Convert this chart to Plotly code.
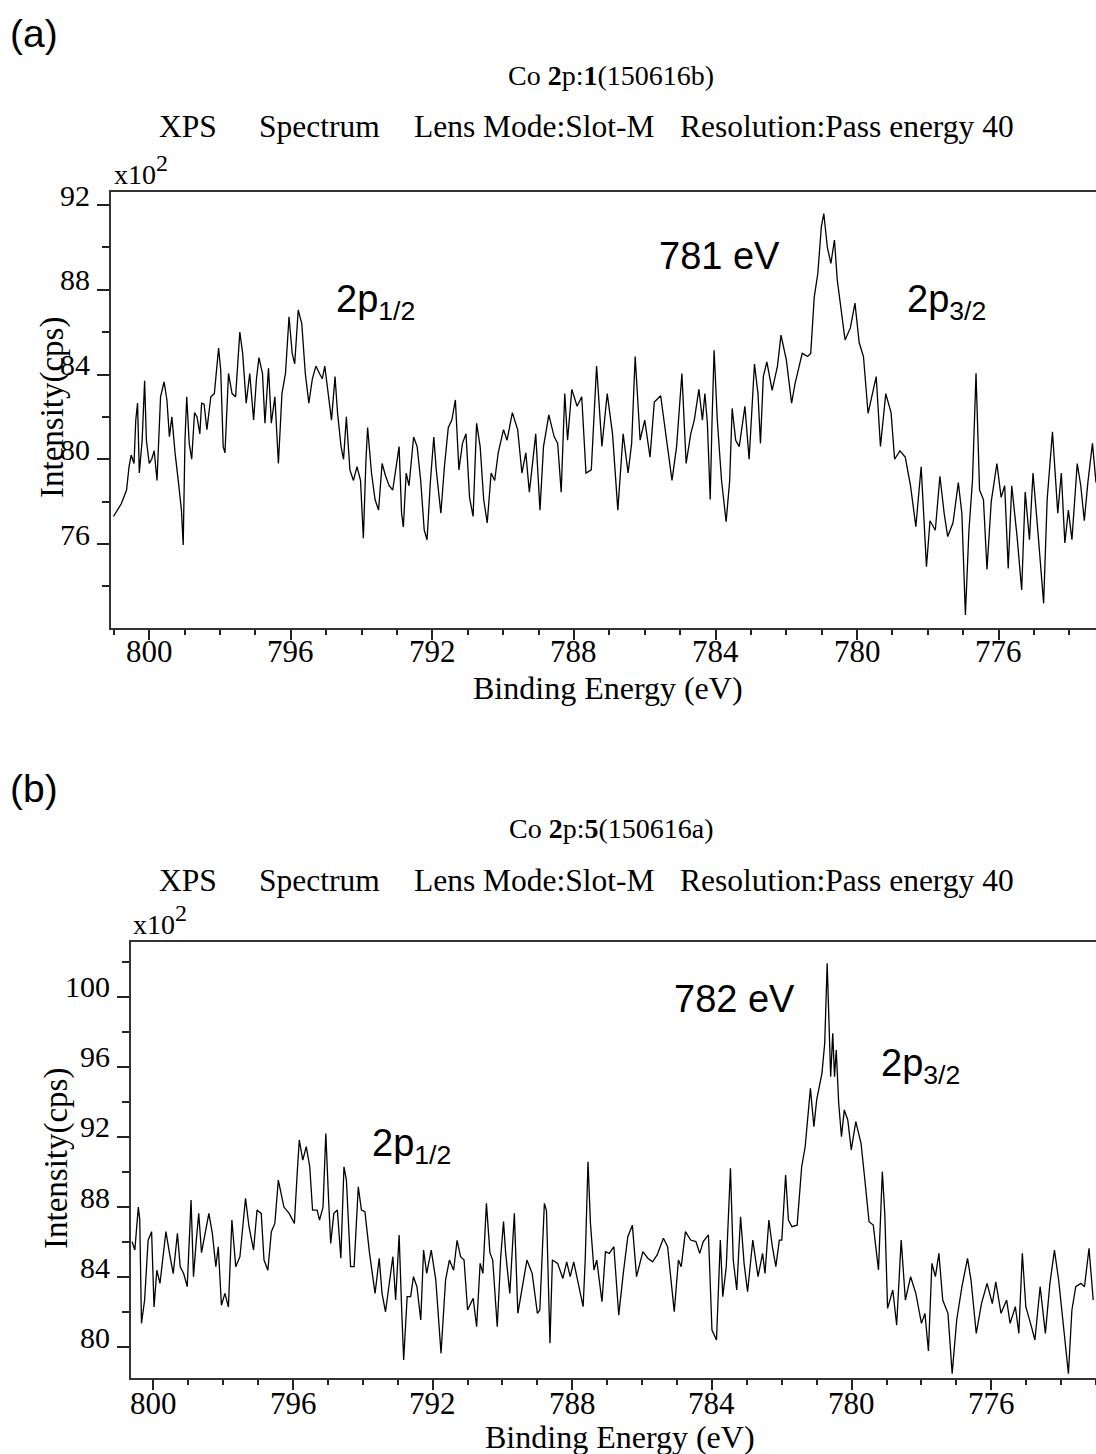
import plotly.graph_objects as go

# ---------------- data (binding energy in eV, intensity in units of 10^2 cps) ----------------
energy_a = [801.01, 800.79, 800.64, 800.57, 800.51, 800.43, 800.38, 800.33, 800.28, 800.20,
            800.13, 800.08, 800.00, 799.93, 799.86, 799.78, 799.68, 799.58, 799.50, 799.43,
            799.36, 799.27, 799.17, 799.09, 799.04, 798.99, 798.94, 798.87, 798.80, 798.72,
            798.65, 798.57, 798.52, 798.45, 798.37, 798.26, 798.16, 798.04, 797.98, 797.91,
            797.86, 797.76, 797.66, 797.56, 797.44, 797.36, 797.26, 797.16, 797.05, 796.97,
            796.90, 796.80, 796.73, 796.63, 796.55, 796.45, 796.35, 796.25, 796.15, 796.05,
            795.96, 795.89, 795.79, 795.69, 795.59, 795.49, 795.39, 795.29, 795.19, 795.11,
            795.04, 794.94, 794.85, 794.75, 794.68, 794.58, 794.51, 794.43, 794.33, 794.23,
            794.13, 794.03, 793.95, 793.88, 793.83, 793.72, 793.62, 793.52, 793.42, 793.32,
            793.22, 793.12, 793.02, 792.94, 792.87, 792.82, 792.74, 792.66, 792.53, 792.43,
            792.33, 792.23, 792.15, 792.06, 791.96, 791.89, 791.76, 791.66, 791.55, 791.45,
            791.35, 791.25, 791.15, 791.05, 790.95, 790.85, 790.75, 790.65, 790.55, 790.45,
            790.34, 790.24, 790.14, 789.99, 789.89, 789.74, 789.59, 789.47, 789.36, 789.26,
            789.18, 789.08,
            788.96, 788.86, 788.71, 788.56, 788.46, 788.36, 788.26, 788.18, 788.06, 787.91,
            787.78, 787.66, 787.51, 787.36, 787.21, 787.06, 786.91, 786.76, 786.61, 786.47,
            786.37, 786.27, 786.13, 786.00, 785.85, 785.73, 785.55, 785.40, 785.23, 785.10,
            784.95, 784.83, 784.70, 784.60, 784.47, 784.37, 784.30, 784.23, 784.15, 784.10,
            784.04, 783.95, 783.83, 783.70, 783.60, 783.53, 783.43, 783.33, 783.17, 783.05,
            782.90, 782.80, 782.73, 782.65, 782.55, 782.40, 782.25, 782.15, 782.00, 781.85,
            781.75, 781.55, 781.40, 781.31, 781.21, 781.11, 781.01, 780.94, 780.84, 780.74,
            780.64, 780.56, 780.46, 780.34, 780.19, 780.06, 779.94, 779.82, 779.69, 779.59,
            779.46, 779.34, 779.19, 779.04, 778.94, 778.79, 778.64, 778.49, 778.34, 778.19,
            778.04, 777.94, 777.79, 777.66, 777.54, 777.44, 777.29, 777.14, 777.04, 776.94,
            776.84, 776.74, 776.64, 776.54, 776.43, 776.33, 776.21, 776.05, 775.93, 775.83,
            775.73, 775.63, 775.48, 775.35, 775.25, 775.13, 775.03, 774.88, 774.73, 774.63,
            774.48, 774.33, 774.23, 774.13, 774.03, 773.93, 773.78, 773.68, 773.58, 773.48,
            773.35, 773.25]
intensity_a = [77.3, 77.9, 78.55, 79.65, 80.2, 79.8, 81.85, 82.65, 79.35, 80.9,
               83.7, 80.9, 79.8, 80.0, 80.4, 79.0, 82.95, 83.66, 82.8, 81.07,
               82.0, 80.3, 78.85, 77.6, 75.95, 80.9, 82.95, 80.75, 80.0, 82.2,
               82.0, 81.2, 82.65, 82.6, 81.4, 82.95, 83.1, 85.25, 84.2, 80.6,
               80.3, 84.05, 83.1, 82.95, 86.0, 85.0, 82.65, 84.05, 81.85, 83.8,
               84.8, 84.05, 81.7, 84.3, 81.7, 82.95, 79.8, 83.1, 84.05, 86.73,
               85.0, 84.5, 87.05, 86.4, 84.05, 82.65, 83.8, 84.4, 84.05, 83.8,
               84.4, 82.95, 81.85, 83.9, 82.2, 80.6, 80.0, 82.0, 79.5, 79.0,
               79.65, 79.0, 76.27, 79.8, 81.5, 79.35, 78.1, 77.6, 79.8, 79.2,
               78.75, 78.55, 79.65, 80.6, 77.45, 76.8, 79.35, 78.75, 81.05, 80.6,
               79.0, 76.65, 76.2, 78.85, 81.05, 79.5, 77.45, 79.65, 81.5, 81.85,
               82.8, 79.5, 80.75, 81.2, 78.2, 77.3, 81.7, 80.6, 78.1, 77.0,
               79.35, 79.0, 80.3, 81.4, 80.9, 82.2, 81.4, 79.35, 80.3, 78.45,
               79.65, 81.2,
               77.6, 80.6, 82.1, 81.07, 80.75, 78.45, 83.1, 80.9, 83.3, 82.5,
               82.95, 79.35, 79.5, 84.4, 80.6, 83.1, 81.2, 77.6, 81.2, 79.35,
               80.75, 84.85, 80.9, 81.85, 80.1, 82.7, 83.0, 81.07, 79.0, 80.6,
               84.05, 79.8, 81.2, 81.85, 83.3, 81.85, 83.1, 81.7, 78.1, 81.7,
               85.15, 81.85, 79.0, 77.05, 79.0, 82.4, 80.9, 80.6, 82.5, 80.0,
               84.5, 83.1, 80.75, 83.9, 84.6, 83.25, 84.4, 85.86, 84.7, 82.65,
               83.6, 85.0, 84.85, 85.0, 87.67, 88.77, 90.98, 91.6, 90.0, 89.25,
               90.35, 88.46, 87.2, 85.63, 86.2, 87.37, 85.5, 84.85, 82.17, 82.95,
               83.9, 80.6, 83.1, 82.2, 80.0, 80.4, 80.1, 78.75, 76.82, 79.65,
               74.93, 77.1, 76.65, 79.2, 77.45, 76.35, 77.0, 78.9, 77.45, 72.65,
               76.65, 79.0, 84.06, 78.55, 78.1, 74.8, 78.0, 79.8, 78.2, 78.75,
               74.85, 78.75, 76.35, 73.83, 78.45, 76.2, 79.35, 76.35, 73.2, 78.1,
               81.3, 77.45, 79.35, 76.05, 77.6, 76.2, 79.8, 78.75, 77.1, 78.9,
               80.75, 78.9]

energy_b = [800.61, 800.53, 800.43, 800.39, 800.34, 800.25, 800.15, 800.05, 799.98, 799.90,
            799.81, 799.71, 799.64, 799.54, 799.43, 799.31, 799.23, 799.13, 799.03, 798.92,
            798.85, 798.77, 798.70, 798.62, 798.51, 798.41, 798.31, 798.21, 798.14, 798.05,
            797.95, 797.85, 797.75, 797.64, 797.52, 797.36, 797.26, 797.13, 797.03, 796.91,
            796.83, 796.72, 796.62, 796.52, 796.42, 796.26, 796.11, 795.96, 795.88, 795.82,
            795.72, 795.62, 795.52, 795.44, 795.31, 795.24, 795.14, 795.06, 794.98, 794.92,
            794.83, 794.73, 794.63, 794.54, 794.47, 794.35, 794.25, 794.13, 794.04, 793.94,
            793.81, 793.65, 793.53, 793.45, 793.35, 793.24, 793.14, 793.06, 792.96, 792.89,
            792.83, 792.73, 792.63, 792.55, 792.45, 792.34, 792.26, 792.17, 792.04, 791.91,
            791.76, 791.63, 791.52, 791.40, 791.30, 791.20, 791.10, 791.00, 790.84, 790.74,
            790.64, 790.56, 790.46, 790.36, 790.28, 790.15, 790.05, 789.97, 789.91, 789.79,
            789.66, 789.56, 789.44, 789.30, 789.15, 789.00,
            788.93, 788.80, 788.74, 788.64, 788.57, 788.42, 788.27, 788.16, 788.06, 787.96,
            787.83, 787.69, 787.63, 787.55, 787.48, 787.38, 787.30, 787.15, 787.05, 786.94,
            786.81, 786.67, 786.54, 786.41, 786.28, 786.16, 785.98, 785.83, 785.70, 785.57,
            785.39, 785.27, 785.08, 784.96, 784.88, 784.76, 784.61, 784.46, 784.35, 784.25,
            784.10, 784.00, 783.87, 783.76, 783.69, 783.59, 783.47, 783.39, 783.29, 783.18,
            783.08, 782.98, 782.83, 782.68, 782.55, 782.48, 782.37, 782.27, 782.17, 782.07,
            782.00, 781.89, 781.81, 781.71, 781.56, 781.43, 781.33, 781.18, 781.08, 781.00,
            780.85, 780.77, 780.70, 780.65, 780.60, 780.54, 780.49, 780.44, 780.37, 780.29,
            780.21, 780.11, 780.01, 779.88, 779.73, 779.63, 779.50, 779.38, 779.23, 779.12,
            779.05, 778.97, 778.82, 778.71, 778.58, 778.46, 778.31, 778.16, 778.00, 777.90,
            777.80, 777.70, 777.60, 777.50, 777.39, 777.24, 777.12, 776.99, 776.84, 776.68,
            776.58, 776.43, 776.28, 776.12, 775.97, 775.87, 775.72, 775.56, 775.46, 775.31,
            775.21, 775.11, 775.01, 774.85, 774.75, 774.60, 774.45, 774.32, 774.19, 774.07,
            773.94, 773.79, 773.69, 773.58, 773.43, 773.33, 773.20, 773.08]
intensity_b = [86.03, 85.55, 88.0, 87.3, 81.37, 82.7, 86.1, 86.6, 82.3, 84.4,
               83.65, 85.4, 86.6, 85.4, 84.2, 86.5, 84.6, 84.2, 83.46, 88.4,
               84.03, 86.1, 87.64, 85.4, 86.5, 87.64, 86.5, 84.6, 85.74, 82.4,
               83.08, 82.3, 87.26, 84.6, 85.17, 88.5, 86.88, 85.55, 87.83, 87.64,
               84.98, 84.4, 86.6, 87.07, 89.54, 88.0, 87.64, 87.07, 89.92, 91.83,
               90.68, 91.45, 90.3, 87.83, 87.83, 87.26, 88.0, 92.2, 88.4, 85.93,
               87.64, 87.83, 85.08, 90.3, 89.54, 84.6, 84.6, 89.16, 87.83, 87.74,
               85.4, 83.08, 85.08, 83.08, 82.03, 83.84, 85.17, 82.7, 86.4, 82.3,
               79.28, 82.89, 82.89, 84.03, 83.46, 81.56, 85.55, 84.22, 85.55, 83.84,
               79.66, 83.84, 84.98, 84.4, 86.1, 85.17, 84.98, 82.13, 82.8, 81.18,
               84.79, 84.22, 88.21, 85.4, 84.98, 81.18, 85.17, 87.17, 85.4, 83.08,
               87.64, 81.94, 83.46, 84.98, 84.22, 81.94,
               82.13, 88.21, 87.8, 80.23, 84.98, 84.79, 83.93, 84.88, 84.03, 84.88,
               83.65, 82.32, 84.98, 90.59, 87.07, 84.41, 84.98, 82.6, 85.46, 85.36,
               85.74, 81.84, 84.22, 86.31, 86.97, 84.03, 85.46, 85.07, 84.88, 85.27,
               86.22, 85.74, 82.03, 84.98, 84.6, 86.6, 86.12, 86.03, 85.36, 86.03,
               86.41, 80.99, 80.42, 86.12, 82.89, 84.6, 90.21, 84.98, 83.27, 87.45,
               84.79, 83.17, 86.12, 84.03, 85.36, 84.22, 87.26, 85.74, 84.6, 86.12,
               86.12, 89.83, 87.26, 86.88, 86.97, 90.3, 91.44, 94.77, 92.59, 94.11,
               95.63, 97.34, 101.9, 97.91, 95.44, 97.91, 95.44, 96.96, 93.92, 92.02,
               93.54, 92.97, 91.26, 92.87, 91.64, 89.73, 87.17, 86.98, 84.41, 90.02,
               87.64, 82.22, 83.27, 81.27, 86.12, 82.7, 84.03, 83.08, 81.37, 81.94,
               79.8, 84.79, 84.03, 85.36, 82.7, 81.94, 78.5, 81.56, 83.46, 85.07,
               83.84, 80.8, 82.5, 83.65, 82.5, 83.74, 81.94, 82.7, 81.37, 82.32,
               80.8, 85.36, 82.32, 81.18, 80.42, 83.46, 80.8, 83.65, 85.55, 83.84,
               81.37, 78.5, 82.13, 83.46, 83.65, 83.46, 85.65, 82.7]

x_ticks = [800, 796, 792, 788, 784, 780, 776]
y_ticks_a = [76, 80, 84, 88, 92]
y_ticks_b = [80, 84, 88, 92, 96, 100]
titles = ["Co <b>2</b>p:<b>1</b>(150616b)", "Co <b>2</b>p:<b>5</b>(150616a)"]
sub_parts = ["XPS", "Spectrum", "Lens Mode:Slot-M", "Resolution:Pass energy 40"]

# ---------------- figure ----------------
W, H = 1096, 1454
SERIF = "Liberation Serif, Times New Roman, serif"
SANS = "Liberation Sans, Arial, Helvetica, sans-serif"


def px(x):
    return x / W


def py(y):
    return 1 - y / H


fig = go.Figure()
fig.add_trace(go.Scatter(x=energy_a, y=intensity_a, mode="lines",
                         line=dict(color="black", width=1.3), xaxis="x", yaxis="y",
                         showlegend=False))
fig.add_trace(go.Scatter(x=energy_b, y=intensity_b, mode="lines",
                         line=dict(color="black", width=1.3), xaxis="x2", yaxis="y2",
                         showlegend=False))

axis_common = dict(showgrid=False, zeroline=False, showline=True, linecolor="#333",
                   linewidth=2, ticks="outside", tickcolor="#222", tickwidth=1.5,
                   automargin=False)

xcommon = dict(axis_common, tickvals=x_ticks, ticklen=10, mirror=True,
               showticklabels=False,
               minor=dict(tick0=800, dtick=1, ticks="outside", ticklen=5,
                          tickcolor="#222", tickwidth=1.5))
ycommon = dict(axis_common, ticklen=12, ticklabelshift=-10, ticklabelstandoff=1,
               tickfont=dict(family=SERIF, size=30, color="black"),
               minor=dict(tick0=0, dtick=2, ticks="outside", ticklen=7,
                          tickcolor="#222", tickwidth=1.5))

fig.update_layout(
    width=W, height=H,
    margin=dict(l=0, r=0, t=0, b=0, pad=0, autoexpand=False),
    paper_bgcolor="white", plot_bgcolor="white",
    xaxis=dict(xcommon, domain=[px(111), 1], anchor="y", range=[801.08, 773.25]),
    yaxis=dict(ycommon, domain=[py(627.7), py(191.7)], anchor="x",
               range=[72.05, 92.63], tickvals=y_ticks_a),
    xaxis2=dict(xcommon, domain=[px(131), 1], anchor="y2", range=[800.64, 773.0]),
    yaxis2=dict(ycommon, domain=[py(1377.7), py(942.3)], anchor="x2",
                range=[78.27, 103.1], tickvals=y_ticks_b),
)

ann = []


def text(x, y, s, size, family, xanchor="center", yanchor="middle", angle=0, xref="paper"):
    ann.append(dict(x=x if xref != "paper" else px(x), y=py(y), xref=xref, yref="paper",
                    text=s, showarrow=False, xanchor=xanchor, yanchor=yanchor,
                    textangle=angle, font=dict(family=family, size=size, color="black")))


sub_left = [157, 257, 412, 678]
for ty, title in zip([75, 828], titles):
    text(611, ty, title, 28, SERIF)
    for lx, part in zip(sub_left, sub_parts):
        text(lx, ty + 52, part, 31.5, SERIF, xanchor="left")

# x tick labels placed through the x axes' scales
for xr, ly in (("x", 652), ("x2", 1403)):
    for v in x_ticks:
        text(v, ly, str(v), 31, SERIF, xref=xr)

# panel labels
text(8, 33, "(a)", 39, SANS, xanchor="left")
text(8, 788, "(b)", 39, SANS, xanchor="left")

# x10^2 multipliers
for lx, by in ((112, 192), (131, 942)):
    text(lx, by, "x10", 28, SERIF, xanchor="left", yanchor="bottom")
    text(lx + 42, by - 14, "2", 24, SERIF, xanchor="left", yanchor="bottom")

# axis titles
text(608, 688, "Binding Energy (eV)", 32, SERIF)
text(620, 1437, "Binding Energy (eV)", 32, SERIF)
text(52, 408, "Intensity(cps)", 33, SERIF, angle=-90)
text(56, 1159, "Intensity(cps)", 33, SERIF, angle=-90)

# peak annotations
text(719, 256, "781 eV", 38, SANS)
text(905, 302, "2p<sub>3/2</sub>", 38, SANS, xanchor="left")
text(334, 302, "2p<sub>1/2</sub>", 38, SANS, xanchor="left")
text(734, 999, "782 eV", 38, SANS)
text(879, 1066, "2p<sub>3/2</sub>", 38, SANS, xanchor="left")
text(370, 1146, "2p<sub>1/2</sub>", 38, SANS, xanchor="left")

fig.update_layout(annotations=ann)
fig.write_html("out.html")
